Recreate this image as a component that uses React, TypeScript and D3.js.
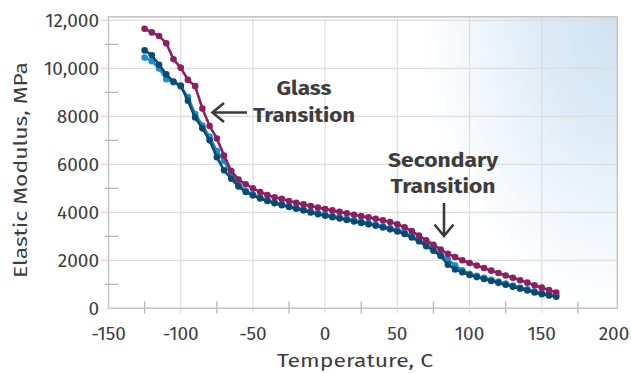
import React, { useEffect, useRef } from "react"
import * as d3 from "d3"

// temperature steps, C
const temps = [
  -125, -120, -115, -110, -105, -100, -95, -90, -85, -80, -75, -70, -65, -60,
  -55, -50, -45, -40, -35, -30, -25, -20, -15, -10, -5, 0, 5, 10, 15, 20, 25,
  30, 35, 40, 45, 50, 55, 60, 65, 70, 75, 80, 85, 90, 95, 100, 105, 110, 115,
  120, 125, 130, 135, 140, 145, 150, 155, 160,
]

// elastic modulus, MPa
const lightBlue = [
  10450, 10300, 10000, 9550, 9420, 9250, 8800, 8100, 7620, 7150, 6550, 6150,
  5550, 5150, 4900, 4750, 4620, 4510, 4420, 4340, 4260, 4190, 4120, 4040, 3970,
  3910, 3850, 3790, 3730, 3670, 3610, 3550, 3490, 3420, 3350, 3260, 3160, 3010,
  2850, 2650, 2450, 2250, 2030, 1780, 1580, 1440, 1350, 1270, 1190, 1110, 1030,
  950, 870, 790, 710, 640, 580, 530,
]
const darkBlue = [
  10750, 10550, 10150, 9750, 9450, 9280, 8650, 7950, 7500, 7000, 6300, 5750,
  5400, 5080, 4850, 4700, 4580, 4470, 4380, 4300, 4220, 4150, 4080, 3990, 3920,
  3860, 3800, 3740, 3680, 3620, 3560, 3500, 3440, 3370, 3290, 3200, 3100, 2950,
  2790, 2590, 2400, 2180, 1820, 1620, 1500, 1390, 1300, 1220, 1140, 1060, 980,
  900, 820, 740, 660, 590, 530, 480,
]
const magenta = [
  11650, 11500, 11350, 11050, 10380, 10030, 9520, 9260, 8330, 7600, 7080, 6370,
  5720, 5370, 5170, 5000, 4850, 4720, 4630, 4560, 4470, 4400, 4330, 4260, 4200,
  4140, 4080, 4020, 3960, 3900, 3840, 3790, 3730, 3670, 3600, 3500, 3380, 3220,
  3030, 2830, 2650, 2450, 2270, 2140, 2000, 1890, 1780, 1680, 1570, 1470, 1370,
  1270, 1170, 1070, 960, 860, 760, 660,
]

const xTicks = [-150, -100, -50, 0, 50, 100, 150, 200]
const xMinor = [-125, -75, -25, 25, 75, 125, 175]
const yTicks = [0, 2000, 4000, 6000, 8000, 10000, 12000]
const yMinor = [1000, 3000, 5000, 7000, 9000, 11000]

const series = [
  { name: "light", values: lightBlue, color: "#1b8ccd" },
  { name: "dark", values: darkBlue, color: "#0b4a6f" },
  { name: "magenta", values: magenta, color: "#8c1f60" },
]

const W = 631
const H = 373
const font = "'Fira Sans', 'Open Sans', sans-serif"
const textColor = "#3d3d3d"

const App = () => {
  const ref = useRef<SVGSVGElement>(null)

  useEffect(() => {
    const svg = d3.select(ref.current)
    svg.selectAll("*").remove()

    const x = d3.scaleLinear().domain([-150, 200]).range([108.5, 614])
    const y = d3.scaleLinear().domain([0, 12000]).range([308.3, 20.4])

    // soft blue glow in the top right corner
    const defs = svg.append("defs")
    const grad = defs
      .append("radialGradient")
      .attr("id", "bg")
      .attr("gradientUnits", "userSpaceOnUse")
      .attr("cx", 625)
      .attr("cy", 10)
      .attr("r", 300)
      .attr("gradientTransform", "translate(625,10) scale(0.68,1) translate(-625,-10)")
    grad.append("stop").attr("offset", 0).attr("stop-color", "#cde2f2")
    grad.append("stop").attr("offset", 0.35).attr("stop-color", "#d9e9f5")
    grad.append("stop").attr("offset", 0.7).attr("stop-color", "#eef5fb")
    grad.append("stop").attr("offset", 1).attr("stop-color", "#ffffff")

    svg
      .append("rect")
      .attr("x", 108.5)
      .attr("y", 16.7)
      .attr("width", 617.3 - 108.5)
      .attr("height", 308.3 - 16.7)
      .attr("fill", "url(#bg)")

    // grid
    svg
      .selectAll("line.vgrid")
      .data(xTicks.slice(1, -1))
      .enter()
      .append("line")
      .attr("x1", d => x(d))
      .attr("x2", d => x(d))
      .attr("y1", 16.7)
      .attr("y2", 313)
      .attr("stroke", "#dcdcdc")
      .attr("stroke-width", 1.2)
    svg
      .selectAll("line.hgrid")
      .data(yTicks.slice(1))
      .enter()
      .append("line")
      .attr("x1", 101)
      .attr("x2", 617.3)
      .attr("y1", d => y(d))
      .attr("y2", d => y(d))
      .attr("stroke", "#dcdcdc")
      .attr("stroke-width", 1.2)

    // minor ticks
    svg
      .selectAll("line.xminor")
      .data(xMinor)
      .enter()
      .append("line")
      .attr("x1", d => x(d))
      .attr("x2", d => x(d))
      .attr("y1", 301.5)
      .attr("y2", 313.5)
      .attr("stroke", "#b5b5b5")
      .attr("stroke-width", 1.3)
    svg
      .selectAll("line.yminor")
      .data(yMinor)
      .enter()
      .append("line")
      .attr("x1", 105)
      .attr("x2", 118)
      .attr("y1", d => y(d))
      .attr("y2", d => y(d))
      .attr("stroke", "#b5b5b5")
      .attr("stroke-width", 1.3)

    // frame
    svg
      .append("path")
      .attr("d", "M108.5,16.7 H617.3 V308.3 H108.5 Z")
      .attr("fill", "none")
      .attr("stroke", "#c4c4c4")
      .attr("stroke-width", 1.4)

    // tick labels
    svg
      .selectAll("text.xt")
      .data(xTicks)
      .enter()
      .append("text")
      .attr("x", d => x(d))
      .attr("y", 340)
      .attr("text-anchor", "middle")
      .attr("font-family", font)
      .attr("font-size", 19)
      .attr("fill", textColor)
      .text(d => d)
    svg
      .selectAll("text.yt")
      .data(yTicks)
      .enter()
      .append("text")
      .attr("x", 99)
      .attr("y", d => y(d) + 7)
      .attr("text-anchor", "end")
      .attr("font-family", font)
      .attr("font-size", 19)
      .attr("fill", textColor)
      .text(d => (d >= 10000 ? d3.format(",")(d) : String(d)))

    // axis titles
    svg
      .append("text")
      .attr("x", 355)
      .attr("y", 367)
      .attr("text-anchor", "middle")
      .attr("font-family", font)
      .attr("font-size", 19)
      .attr("fill", textColor)
      .attr("textLength", 156)
      .attr("lengthAdjust", "spacingAndGlyphs")
      .text("Temperature, C")
    svg
      .append("text")
      .attr("transform", "translate(27,170) rotate(-90)")
      .attr("text-anchor", "middle")
      .attr("font-family", font)
      .attr("font-size", 19)
      .attr("fill", textColor)
      .attr("textLength", 216)
      .attr("lengthAdjust", "spacingAndGlyphs")
      .text("Elastic Modulus, MPa")

    // series
    const line = d3
      .line<number>()
      .x((d, i) => x(temps[i]))
      .y(d => y(d))

    series.forEach(s => {
      const g = svg.append("g")
      g.append("path")
        .datum(s.values)
        .attr("d", line)
        .attr("fill", "none")
        .attr("stroke", s.color)
        .attr("stroke-width", 2.6)
      g.selectAll("circle")
        .data(s.values)
        .enter()
        .append("circle")
        .attr("cx", (d, i) => x(temps[i]))
        .attr("cy", d => y(d))
        .attr("r", 3.3)
        .attr("fill", s.color)
    })

    // annotations
    const label = (lines: string[], cx: number, baselines: number[], widths: number[]) => {
      lines.forEach((t, i) => {
        svg
          .append("text")
          .attr("x", cx)
          .attr("y", baselines[i])
          .attr("text-anchor", "middle")
          .attr("font-family", font)
          .attr("font-size", 19)
          .attr("font-weight", 700)
          .attr("fill", textColor)
          .attr("textLength", widths[i])
          .attr("lengthAdjust", "spacingAndGlyphs")
          .text(t)
      })
    }
    label(["Glass", "Transition"], 304, [95, 121.5], [55, 102])
    label(["Secondary", "Transition"], 443, [166.5, 192.5], [110, 105])

    const arrowStyle = (p: d3.Selection<SVGPathElement, unknown, null, undefined>) =>
      p
        .attr("fill", "none")
        .attr("stroke", "#3a3a3a")
        .attr("stroke-width", 2.6)
        .attr("stroke-linecap", "butt")
        .attr("stroke-linejoin", "miter")
    arrowStyle(svg.append("path").attr("d", "M247,112.5 H212.5"))
    arrowStyle(svg.append("path").attr("d", "M224,103 L212.5,112.5 L224,122"))
    arrowStyle(svg.append("path").attr("d", "M444,203 V236"))
    arrowStyle(svg.append("path").attr("d", "M434.5,224.5 L444,236 L453.5,224.5"))
  }, [])

  return (
    <svg
      ref={ref}
      width={W}
      height={H}
      style={{ position: "absolute", left: 0, top: 0, background: "#fff" }}
    />
  )
}

export default App
